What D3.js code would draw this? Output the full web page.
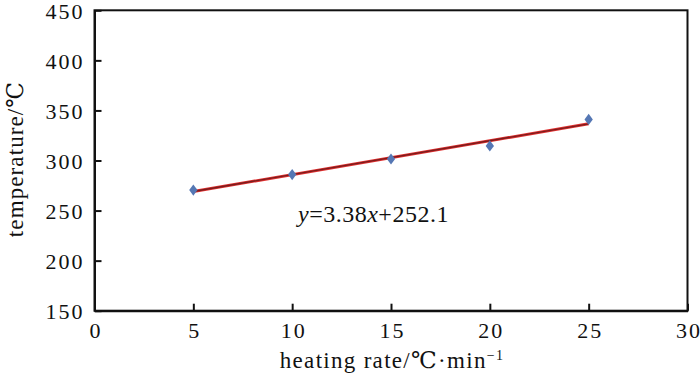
<!DOCTYPE html>
<html>
<head>
<meta charset="utf-8">
<script src="https://cdn.jsdelivr.net/npm/d3@7"></script>
<style>
	body { margin: 0; background: #fff; }
	text { font-family: "Liberation Serif", "DejaVu Serif", serif; fill: #111; }
</style>
</head>
<body>
<div class="container"></div>
<script>
var	WIDTH = 700,
	HEIGHT = 379,
	LEFT = 94.5,
	RIGHT = 687.5,
	TOP = 10.3,
	BOTTOM = 310.7;

// data
var heatingRate = [5, 10, 15, 20, 25];
var temperature = [270.5, 286, 301.5, 314.5, 341];
var xTicks = [0, 5, 10, 15, 20, 25, 30];
var yTicks = [150, 200, 250, 300, 350, 400, 450];
var slope = 3.38, intercept = 252.1;

function translate(x, y) {
	return 'translate(' + x + ',' + y + ')';
}

var svg = d3.select('.container').append('svg')
	.attr('width', WIDTH)
	.attr('height', HEIGHT);

var xScale = d3.scaleLinear().domain([0, 30]).range([LEFT, RIGHT]);
var yScale = d3.scaleLinear().domain([150, 450]).range([BOTTOM, TOP]);

// frame
svg.append('rect')
	.attr('x', LEFT).attr('y', TOP)
	.attr('width', RIGHT - LEFT).attr('height', BOTTOM - TOP)
	.attr('fill', 'none').attr('stroke', '#111').attr('stroke-width', 2);

var xAxis = d3.axisBottom(xScale).tickValues(xTicks).tickSizeInner(-7).tickSizeOuter(0).tickPadding(12);
var yAxis = d3.axisLeft(yScale).tickValues(yTicks).tickSizeInner(-7).tickSizeOuter(0).tickPadding(10);

var gx = svg.append('g').attr('transform', translate(0, BOTTOM)).call(xAxis);
var gy = svg.append('g').attr('transform', translate(LEFT, 0)).call(yAxis);

[gx, gy].forEach(function(g) {
	g.attr('font-family', '"Liberation Serif", serif').attr('font-size', 22);
	g.select('.domain').attr('stroke', '#111').attr('stroke-width', 2);
	g.selectAll('.tick line').attr('stroke', '#111').attr('stroke-width', 2);
	g.selectAll('.tick text')
		.style('letter-spacing', '2px')
		.attr('fill', '#111');
});
gy.selectAll('.tick text').attr('dy', '0.35em');
gx.selectAll('.tick text').attr('dx', 1);

// trend line
var line = d3.line()
	.x(function(d) { return xScale(d); })
	.y(function(d) { return yScale(slope * d + intercept); });
var ends = [heatingRate[0], heatingRate[heatingRate.length - 1]];

svg.append('path').datum(ends)
	.attr('d', line).attr('fill', 'none')
	.attr('stroke', '#e03030').attr('stroke-width', 3);
svg.append('path').datum(ends)
	.attr('d', line).attr('fill', 'none')
	.attr('stroke', '#7a1c1c').attr('stroke-width', 1.4);

// points
svg.selectAll('.pt')
	.data(heatingRate).enter()
	.append('path')
	.attr('class', 'pt')
	.attr('d', d3.symbol().type(d3.symbolDiamond).size(45))
	.attr('transform', function(d, i) { return translate(xScale(d), yScale(temperature[i])) + ' scale(1.15,0.9)'; })
	.attr('fill', '#5577b4');

// equation
var eq = svg.append('text')
	.attr('x', 298).attr('y', 222)
	.style('font-size', '24px')
	.style('letter-spacing', '0.5px');
eq.append('tspan').style('font-style', 'italic').text('y');
eq.append('tspan').text('=3.38');
eq.append('tspan').style('font-style', 'italic').text('x');
eq.append('tspan').text('+252.1');

// axis titles
var xt = svg.append('text')
	.attr('x', 392).attr('y', 368)
	.attr('text-anchor', 'middle')
	.style('font-size', '23px')
	.style('letter-spacing', '1.3px');
xt.append('tspan').text('heating rate/\u2103\u00b7min');
xt.append('tspan').attr('dy', -8).style('font-size', '14px').text('\u22121');

svg.append('text')
	.attr('transform', translate(23, 159) + ' rotate(-90)')
	.attr('text-anchor', 'middle')
	.style('font-size', '23px')
	.style('letter-spacing', '1.1px')
	.text('temperature/\u2103');
</script>
</body>
</html>
